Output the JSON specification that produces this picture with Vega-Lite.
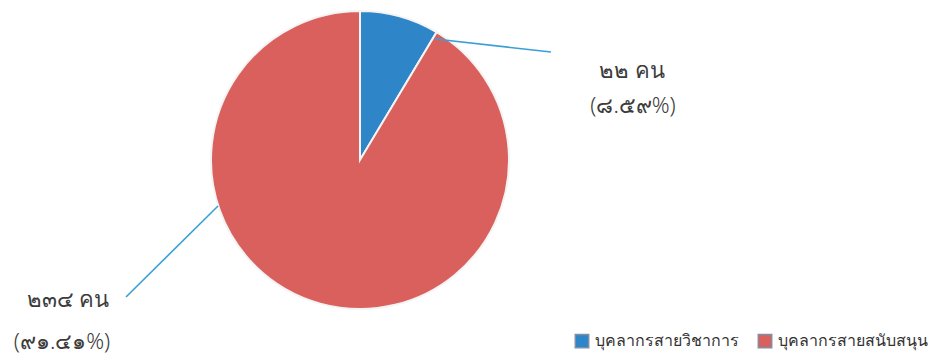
{
  "$schema": "https://vega.github.io/schema/vega-lite/v6.json",
  "width": 941,
  "height": 356,
  "padding": 0,
  "autosize": {"type": "none"},
  "background": "white",
  "config": {"view": {"stroke": null}, "font": "Noto Sans"},
  "datasets": {
    "pie": [
      {"group": "บุคลากรสายวิชาการ", "count": 22},
      {"group": "บุคลากรสายสนับสนุน", "count": 234}
    ],
    "leaders": [
      {"slice": "a", "px": 435, "py": 39},
      {"slice": "a", "px": 551, "py": 52},
      {"slice": "b", "px": 218, "py": 206},
      {"slice": "b", "px": 126, "py": 297}
    ],
    "labels": [
      {"px": 632, "py": 71, "text": "๒๒ คน"},
      {"px": 633, "py": 106, "text": "(๘.๕๙%)"},
      {"px": 68, "py": 300, "text": "๒๓๔ คน"},
      {"px": 62, "py": 342, "text": "(๙๑.๔๑%)"}
    ]
  },
  "layer": [
    {
      "data": {"name": "pie"},
      "mark": {"type": "arc", "outerRadius": 149, "stroke": "#f4f4f4", "strokeWidth": 2},
      "encoding": {
        "theta": {"field": "count", "type": "quantitative", "stack": true},
        "order": {"field": "count", "sort": "ascending"},
        "x": {"datum": 360, "type": "quantitative", "scale": {"domain": [0, 941]}, "axis": null},
        "y": {"datum": 160, "type": "quantitative", "scale": {"domain": [0, 356], "reverse": true}, "axis": null},
        "color": {
          "field": "group",
          "type": "nominal",
          "scale": {"domain": ["บุคลากรสายวิชาการ", "บุคลากรสายสนับสนุน"], "range": ["#2e86c9", "#d9605c"]},
          "legend": {
            "title": null,
            "orient": "none",
            "direction": "horizontal",
            "legendX": 574,
            "legendY": 333,
            "symbolType": "square",
            "symbolSize": 180,
            "symbolStrokeColor": "#7f8fa6",
            "symbolStrokeWidth": 1.5,
            "labelFontSize": 16,
            "labelFontWeight": 300,
            "labelColor": "#333333",
            "labelOffset": 5,
            "columnPadding": 16,
            "labelLimit": 300
          }
        }
      }
    },
    {
      "data": {"name": "leaders"},
      "mark": {"type": "line", "color": "#3a9fd8", "strokeWidth": 1.6},
      "encoding": {
        "x": {"field": "px", "type": "quantitative", "scale": {"domain": [0, 941]}, "axis": null},
        "y": {"field": "py", "type": "quantitative", "scale": {"domain": [0, 356], "reverse": true}, "axis": null},
        "detail": {"field": "slice"}
      }
    },
    {
      "data": {"name": "labels"},
      "mark": {"type": "text", "fontSize": 22, "fontWeight": 300, "color": "#3c3c3c", "align": "center", "baseline": "middle"},
      "encoding": {
        "x": {"field": "px", "type": "quantitative", "scale": {"domain": [0, 941]}, "axis": null},
        "y": {"field": "py", "type": "quantitative", "scale": {"domain": [0, 356], "reverse": true}, "axis": null},
        "text": {"field": "text"}
      }
    }
  ]
}
